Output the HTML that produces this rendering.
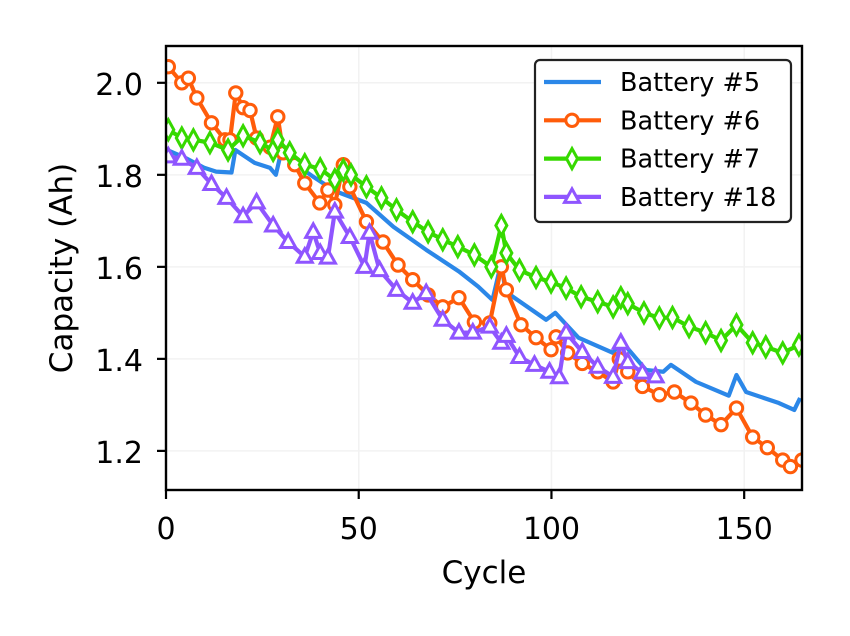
<!DOCTYPE html>
<html><head><meta charset="utf-8"><style>
body{margin:0;background:#fff;}
svg{display:block;font-family:"DejaVu Sans","Liberation Sans",sans-serif;}
</style></head><body>
<svg id="chart" width="850" height="636" viewBox="0 0 850 636">
<g id="grid"></g>
<g id="series"></g>
<rect x="166" y="46" width="636" height="444" fill="none" stroke="#000" stroke-width="2.4"/>
<g id="axes"></g>
<text x="484" y="583" font-size="31" text-anchor="middle">Cycle</text>
<text transform="translate(72,268) rotate(-90)" font-size="31" text-anchor="middle">Capacity (Ah)</text>
<g>
<rect x="535" y="60" width="256" height="162" rx="5" fill="#fff" stroke="#222" stroke-width="2.2"/>
<g id="legend-items"></g>
</g>
</svg>
<script>
const xTicks=[0,50,100,150];
const yTicks=[1.2,1.4,1.6,1.8,2.0];
const yTickLabels=["1.2","1.4","1.6","1.8","2.0"];
const seriesNames=["Battery #5","Battery #6","Battery #7","Battery #18"];
const b5x=[0,5,10,13,17,18,23,27,28.5,30,33,38,42,45,52,59,67.5,76,81,84.7,87,88,90,98.6,101,107,116,118,124.5,129,131,137.5,146,148,150.5,159,163,164.5];
const b5y=[1.855,1.837,1.815,1.807,1.805,1.854,1.826,1.815,1.80,1.854,1.826,1.797,1.775,1.761,1.739,1.687,1.637,1.59,1.557,1.528,1.61,1.55,1.535,1.485,1.50,1.446,1.413,1.44,1.376,1.372,1.387,1.35,1.32,1.365,1.328,1.304,1.289,1.315];
const b6x=[0.6,4.1,5.8,8,11.8,15.3,16.6,18.1,20,21.8,23.5,27,29,30.4,33.4,36,39.9,42,43.8,46,47.7,52,56.3,60.2,64,68,71.8,76,80,84,87,88.3,92.1,96,99.9,101.2,104.2,108,112,116,117.6,119.8,123.6,128,131.9,136.2,140,144,148,152.2,156,160,162,165];
const b6y=[2.035,2.0,2.01,1.967,1.913,1.876,1.876,1.978,1.946,1.94,1.88,1.86,1.926,1.848,1.822,1.782,1.739,1.767,1.735,1.822,1.774,1.698,1.654,1.604,1.572,1.539,1.513,1.533,1.48,1.478,1.60,1.55,1.474,1.446,1.42,1.448,1.413,1.39,1.372,1.35,1.40,1.372,1.34,1.322,1.328,1.304,1.278,1.257,1.293,1.23,1.207,1.18,1.166,1.18];
const b7x=[0.6,4.1,7.1,11.4,16.1,20,24.4,27.8,29,32.1,36,40,43.8,46,48,52,55.9,59.8,64,68,71.8,75.7,80,84.4,87,88.3,91.7,96,99.9,103.8,107.7,112,116,118,119.8,124,128,131.4,135.7,140,144,148,152.2,155.6,160,164.2];
const b7y=[1.898,1.88,1.876,1.87,1.854,1.885,1.87,1.853,1.876,1.848,1.822,1.813,1.789,1.81,1.80,1.774,1.75,1.724,1.698,1.676,1.659,1.644,1.626,1.60,1.69,1.63,1.593,1.577,1.567,1.554,1.535,1.524,1.513,1.533,1.52,1.50,1.489,1.49,1.47,1.457,1.44,1.474,1.435,1.426,1.413,1.43];
const b18x=[0.6,4.1,8,11.8,15.7,20,23.5,27.8,31.7,36,38.2,40,42,43.8,47.7,51.5,52.8,55.4,59.8,64,67.5,71.8,76,79.6,84,87,88.3,91.7,95.6,99.5,102,103.8,108,112,116,118,119.8,123.6,127];
const b18y=[1.84,1.835,1.815,1.78,1.75,1.71,1.74,1.69,1.654,1.622,1.676,1.63,1.62,1.72,1.665,1.60,1.674,1.593,1.55,1.522,1.543,1.485,1.457,1.457,1.47,1.435,1.45,1.404,1.387,1.372,1.36,1.457,1.415,1.383,1.361,1.435,1.393,1.37,1.362];

const X0=166,X1=802,Y0=46,Y1=490,XMIN=0,XMAX=165,YMIN=1.115,YMAX=2.08;
const sx=v=>X0+(v-XMIN)/(XMAX-XMIN)*(X1-X0);
const sy=v=>Y1-(v-YMIN)/(YMAX-YMIN)*(Y1-Y0);
const NS="http://www.w3.org/2000/svg";
function mk(tag,attrs,parent){const e=document.createElementNS(NS,tag);for(const k in attrs)e.setAttribute(k,attrs[k]);parent.appendChild(e);return e;}
const grid=document.getElementById('grid'),axes=document.getElementById('axes'),ser=document.getElementById('series');
xTicks.forEach(t=>{
  const g=mk('line',{x1:sx(t),x2:sx(t),y1:Y0,y2:Y1,stroke:'#f2f2f2','stroke-width':1.5},grid);
  
  
  const l=mk('line',{x1:sx(t),x2:sx(t),y1:Y1,y2:Y1+9,stroke:'#000','stroke-width':2.2},axes);
  
  
  const tx=mk('text',{x:sx(t),y:539,'font-size':30,'text-anchor':'middle'},axes);
  tx.textContent=String(t);
  
  
});
yTicks.forEach((t,i)=>{
  const g=mk('line',{x1:X0,x2:X1,y1:sy(t),y2:sy(t),stroke:'#f2f2f2','stroke-width':1.5},grid);
  
  
  const l=mk('line',{x1:X0-9,x2:X0,y1:sy(t),y2:sy(t),stroke:'#000','stroke-width':2.2},axes);
  
  
  const tx=mk('text',{x:X0-23,y:sy(t)+12,'font-size':30,'text-anchor':'end'},axes);
  tx.textContent=yTickLabels[i];
  
  
});
const colors=['#2b87e8','#ff5c0a','#36d900','#8f55ff'];
const markers=[null,'circle','diamond','triangle'];
function marker(type,x,y,c,parent){
  let e;
  if(type==='circle') e=mk('circle',{cx:x,cy:y,r:6.2,fill:'#fff',stroke:c,'stroke-width':3},parent);
  else if(type==='diamond') e=mk('polygon',{points:`${x},${y-10} ${x+5.5},${y} ${x},${y+10} ${x-5.5},${y}`,fill:'#fff',stroke:c,'stroke-width':3},parent);
  else e=mk('polygon',{points:`${x},${y-8} ${x+7.5},${y+5.5} ${x-7.5},${y+5.5}`,fill:'#fff',stroke:c,'stroke-width':3},parent);
  return e;
}
const allX=[b5x,b6x,b7x,b18x],allY=[b5y,b6y,b7y,b18y];
const clip=mk('clipPath',{id:'pc'},document.getElementById('chart'));
mk('rect',{x:X0,y:Y0,width:X1-X0,height:Y1-Y0},clip);
ser.setAttribute('clip-path','url(#pc)');
allX.forEach((xs,s)=>{
  const ys=allY[s];
  const g=mk('g',{},ser);
  
  
  const p=mk('polyline',{points:xs.map((x,i)=>sx(x)+','+sy(ys[i])).join(' '),fill:'none',stroke:colors[s],'stroke-width':4.2,'stroke-linejoin':'round'},g);
  
  
  if(markers[s]) xs.forEach((x,i)=>{
    const m=marker(markers[s],sx(x),sy(ys[i]),colors[s],g);
    
    
  });
});
const li=document.getElementById('legend-items');
seriesNames.forEach((n,i)=>{
  const y=82+i*38.3;
  const l=mk('line',{x1:544,x2:601,y1:y,y2:y,stroke:colors[i],'stroke-width':4.2},li);
  
  
  if(markers[i]){const m=marker(markers[i],572,y,colors[i],li);
    
    }
  const t=mk('text',{x:620,y:y+9,'font-size':25.5},li);
  t.textContent=n;
  
  
});
</script>
</body></html>
